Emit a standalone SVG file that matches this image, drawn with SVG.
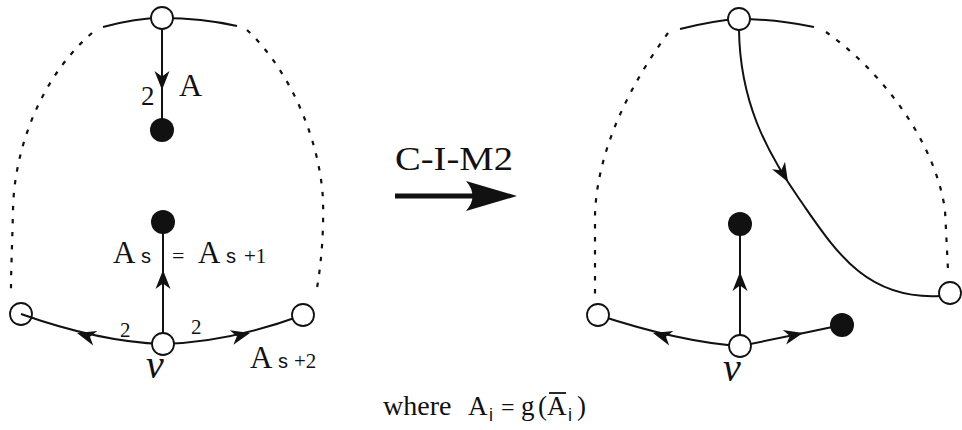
<svg xmlns="http://www.w3.org/2000/svg" width="962" height="430" viewBox="0 0 962 430">
<style>
.e{fill:none;stroke:#111;stroke-width:2}
.d{fill:none;stroke:#111;stroke-width:2.2;stroke-dasharray:4.5 8.5}
.o{fill:#fff;stroke:#111;stroke-width:1.8}
.on{fill:none;stroke:#111;stroke-width:1.8}
.f{fill:#111}
.t{font-family:"Liberation Serif",serif;fill:#111}
.s{font-family:"Liberation Sans",sans-serif;fill:#111}
.v{font-family:"Liberation Serif",serif;font-style:italic;fill:#111}
</style>
<defs>
<path id="ah" d="M0,0 L-19,-7.5 L-13.5,0 L-19,7.5 Z" fill="#111"/>
</defs>
<rect width="962" height="430" fill="#fff"/>
<g id="connectors">
<path class="e" d="M103,27 C125,21 145,18 162,18 C185,18 215,21 237,26"/>
<path class="d" d="M92,33 C40,78 14,150 13,210 C12,250 11,270 11,290"/>
<path class="d" d="M247,30 C290,70 320,140 323,200 C324,240 320,270 317,288"/>
<path class="e" d="M162,18 L162,130"/>
<use href="#ah" transform="translate(162,90) rotate(90)"/>
<path class="e" d="M163,344 L163,222"/>
<use href="#ah" transform="translate(163,270) rotate(-90)"/>
<path class="e" d="M163,344 Q100,342 21,314"/>
<use href="#ah" transform="translate(77,333) rotate(196)"/>
<path class="e" d="M163,344 Q230,342 303,315"/>
<use href="#ah" transform="translate(250,333) rotate(-14)"/>
<path d="M395,196 L480,196" stroke="#111" stroke-width="5" fill="none"/>
<path d="M517,196 L466,181 Q479,196 466,211 Z" fill="#111"/>
<path class="e" d="M680,29 C700,24 720,20 739,19 C765,19 790,22 814,27"/>
<path class="d" d="M668,33 C630,85 597,150 595,215 L595,295"/>
<path class="d" d="M826,32 C880,70 935,140 945,210 L948,270"/>
<path class="e" d="M739,30 C740,100 765,150 800,200 C835,250 865,300 940,296"/>
<use href="#ah" transform="translate(788,182) rotate(60)"/>
<path class="e" d="M740,346 L740,224"/>
<use href="#ah" transform="translate(740,272) rotate(-90)"/>
<path class="e" d="M740,346 Q680,342 598,315"/>
<use href="#ah" transform="translate(653,333) rotate(196)"/>
<path class="e" d="M740,346 Q790,336 842,325"/>
<use href="#ah" transform="translate(803,333) rotate(-13)"/>
</g>
<g id="L_top"><circle class="o" cx="162" cy="18" r="11"/></g>
<g id="L_A"><circle class="f" cx="162" cy="130" r="12"/></g>
<g id="L_As"><circle class="f" cx="163" cy="222" r="12"/></g>
<g id="L_v"><circle class="o" cx="163" cy="344" r="11"/></g>
<g id="L_left"><circle class="on" cx="21" cy="314" r="11"/></g>
<g id="L_right"><circle class="o" cx="303" cy="315" r="11"/></g>
<g id="R_top"><circle class="o" cx="739" cy="19" r="11"/></g>
<g id="R_fill"><circle class="f" cx="740" cy="224" r="12"/></g>
<g id="R_v"><circle class="o" cx="740" cy="346" r="11"/></g>
<g id="R_left"><circle class="o" cx="598" cy="315" r="11"/></g>
<g id="R_rightfill"><circle class="f" cx="842" cy="325" r="12"/></g>
<g id="R_far"><circle class="o" cx="950" cy="293" r="11"/></g>
<g id="labels">
<text class="t" x="179" y="96" font-size="32">A</text>
<text class="t" x="141" y="105" font-size="27">2</text>
<text class="t" x="113" y="263" font-size="31">A</text>
<text class="s" x="141" y="263" font-size="20">s</text>
<text class="t" x="172" y="263" font-size="22">=</text>
<text class="t" x="198" y="263" font-size="31">A</text>
<text class="s" x="226" y="263" font-size="20">s</text>
<text class="t" x="244" y="263" font-size="21">+1</text>
<text class="t" x="120" y="337" font-size="21">2</text>
<text class="t" x="191" y="334" font-size="21">2</text>
<text class="t" x="250" y="368" font-size="31">A</text>
<text class="s" x="278" y="368" font-size="20">s</text>
<text class="t" x="294" y="368" font-size="21">+2</text>
<text class="v" x="146" y="378" font-size="40">v</text>
<text class="v" x="723" y="381" font-size="40">v</text>
<text class="t" x="395" y="170" font-size="34" textLength="118" lengthAdjust="spacingAndGlyphs">C-I-M2</text>
<text class="t" x="383" y="415" font-size="28">where</text>
<text class="t" x="468" y="415" font-size="27">A</text>
<text class="s" x="489" y="421" font-size="18">i</text>
<text class="t" x="501" y="415" font-size="24">=</text>
<text class="t" x="521" y="415" font-size="27">g</text>
<text class="t" x="538" y="415" font-size="27">(</text>
<text class="t" x="547" y="415" font-size="27">A</text>
<line x1="549" y1="393" x2="566" y2="393" stroke="#111" stroke-width="1.8"/>
<text class="s" x="568" y="421" font-size="18">i</text>
<text class="t" x="577" y="415" font-size="27">)</text>
</g>
</svg>
